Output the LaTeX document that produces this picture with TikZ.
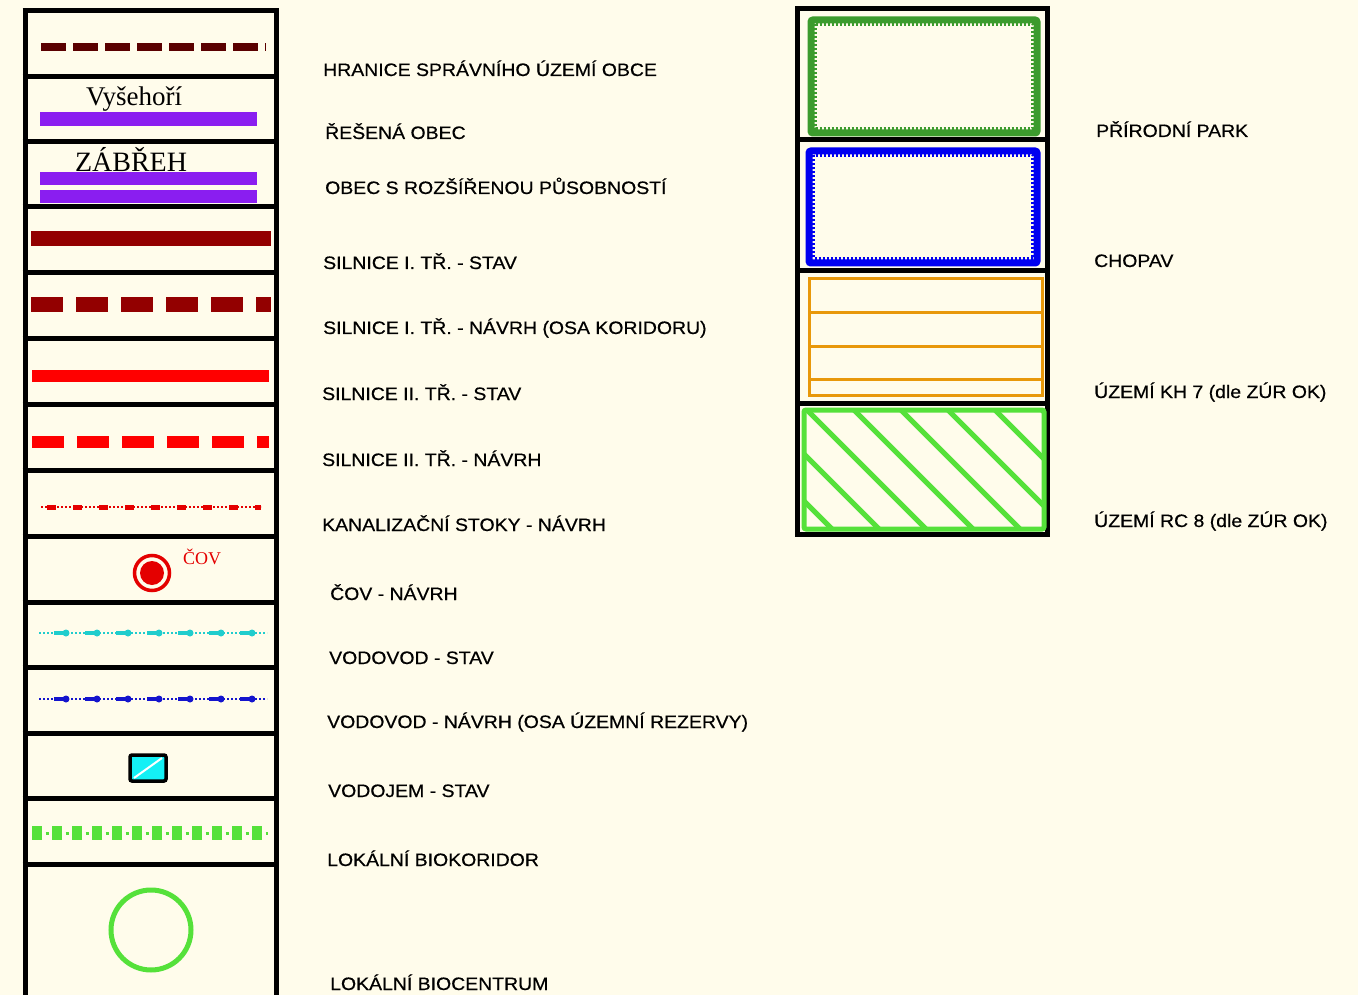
\documentclass[tikz,border=0pt]{standalone}
\usepackage{fontspec}
\setmainfont{Liberation Sans}
\newfontfamily\mapserif{Liberation Serif}
\newfontfamily\legendfont{Liberation Sans}[FakeStretch=1.08,FakeBold=0.6]
\usetikzlibrary{positioning}
\definecolor{paper}{RGB}{255,252,235}
\definecolor{border}{RGB}{90,0,0}
\definecolor{violet}{RGB}{138,30,240}
\definecolor{road}{RGB}{147,0,0}
\definecolor{sewer}{RGB}{228,0,0}
\definecolor{water}{RGB}{32,205,205}
\definecolor{plan}{RGB}{20,20,205}
\definecolor{tank}{RGB}{20,240,245}
\definecolor{bio}{RGB}{85,225,58}
\definecolor{park}{RGB}{60,155,45}
\definecolor{chopav}{RGB}{0,0,240}
\definecolor{kh}{RGB}{232,152,10}
\tikzset{
  frame/.style={line width=5pt,draw=black},
  legend/.style={anchor=base west,inner sep=0pt,font=\legendfont\fontsize{18}{20}\selectfont},
  place/.style={anchor=base,inner sep=0pt,font=\mapserif\fontsize{#1}{#1}\selectfont},
  place/.default=27,
  bar/.style={line width=#1,line cap=butt},
  pipe/.style={draw=#1,line width=2.5pt,dash pattern=on 2pt off 2pt},
}
\begin{document}
\begin{tikzpicture}[x=1pt,y=-1pt]
  \fill[paper] (0,0) rectangle (1358,995);
  \useasboundingbox (0,0) rectangle (1358,995);
  % left column frame
  \draw[frame] (25,11) -- (25,1000) (276,11) -- (276,1000);
  \foreach \y in {11,77,142,207,273,338,404,470,536,602,667,733,798,864}
    \draw[frame] (22.5,\y) -- (278.5,\y);
  % right column frame
  \draw[frame] (797,9) rectangle (1047,534);
  \foreach \y in {140,271,403}
    \draw[frame] (797,\y) -- (1047,\y);
  % symbols
  \draw[border,bar=8pt,dash pattern=on 25pt off 7pt] (41,47) -- (266,47);
  \node[place] (vys) at (134,106) {Vyšehoří};
  \draw[violet,bar=14pt] (40,119) -- (257,119);
  \node[place=28] (zab) at (131,172) {ZÁBŘEH};
  \draw[violet,bar=13pt] (40,179) -- (257,179) (40,197) -- (257,197);
  \draw[road,bar=15pt] (31,238.5) -- (271,238.5);
  \draw[road,bar=15pt,dash pattern=on 32pt off 13pt] (31,304.5) -- (271,304.5);
  \draw[red,bar=12pt] (32,376) -- (269,376);
  \draw[red,bar=12pt,dash pattern=on 32pt off 13pt] (32,442) -- (269,442);
  \draw[pipe=sewer] (41,507) -- (261,507);
  \draw[sewer,bar=5pt,dash pattern=on 9pt off 17pt] (47,507) -- (261,507);
  \draw[sewer,line width=3.5pt] (152,573) circle[radius=17.5pt];
  \fill[sewer] (152,573) circle[radius=12pt];
  \node[anchor=base west,inner sep=0pt,text=sewer,font=\mapserif\fontsize{18}{18}\selectfont] (cov) at (183,564) {ČOV};
  \foreach \c/\y in {water/633,plan/699}{
    \draw[pipe=\c] (39,\y) -- (267,\y);
    \foreach \x in {66,97,...,252}{
      \draw[\c,bar=4pt] (\x-12,\y) -- (\x,\y);
      \fill[\c] (\x,\y) circle[radius=3.5pt];
    }
  }
  \draw[line width=3.5pt,rounded corners=2pt,fill=tank] (130,755) rectangle (166,781);
  \draw[white,line width=2pt] (134,778) -- (162,758);
  \draw[bio,bar=14pt,dash pattern=on 10pt off 10pt] (32,833) -- (268,833);
  \draw[bio,bar=3pt,dash pattern=on 3pt off 17pt] (45.5,833) -- (268,833);
  \draw[bio,line width=5pt] (151,930) circle[radius=40pt];
  % areas
  \draw[park,line width=7pt,rounded corners=2pt] (811,20) rectangle (1037,133);
  \draw[park,line width=2.5pt,dash pattern=on 2pt off 2pt] (815.5,24.5) rectangle (1032.5,128.5);
  \draw[chopav,line width=7pt,rounded corners=2pt] (809,151) rectangle (1037,263);
  \draw[chopav,line width=2.5pt,dash pattern=on 2pt off 2pt] (813.5,155.5) rectangle (1032.5,258.5);
  \draw[kh,line width=3pt] (809,279) rectangle (1042,395);
  \foreach \y in {312,346,379}
    \draw[kh,line width=3pt] (809,\y) -- (1042,\y);
  \begin{scope}
    \clip (804,410) rectangle (1044,529);
    \foreach \k in {-2,...,5}
      \draw[bio,line width=5pt] (807+47*\k,410) -- ++(200,200);
  \end{scope}
  \draw[bio,line width=5pt,rounded corners=2pt] (804,410) rectangle (1044,529);
  % labels
  \foreach \t/\x/\y [count=\i] in {
    {HRANICE SPRÁVNÍHO ÚZEMÍ OBCE}/323/76,
    {ŘEŠENÁ OBEC}/325/139,
    {OBEC S ROZŠÍŘENOU PŮSOBNOSTÍ}/325/194,
    {SILNICE I. TŘ. - STAV}/323/269,
    {SILNICE I. TŘ. - NÁVRH (OSA KORIDORU)}/323/334,
    {SILNICE II. TŘ. - STAV}/322/400,
    {SILNICE II. TŘ. - NÁVRH}/322/466,
    {KANALIZAČNÍ STOKY - NÁVRH}/322/531,
    {ČOV - NÁVRH}/330/600,
    {VODOVOD - STAV}/329/664,
    {VODOVOD - NÁVRH (OSA ÚZEMNÍ REZERVY)}/327/728,
    {VODOJEM - STAV}/328/797,
    {LOKÁLNÍ BIOKORIDOR}/327/866,
    {LOKÁLNÍ BIOCENTRUM}/330/990,
    {PŘÍRODNÍ PARK}/1096/137,
    {CHOPAV}/1094/267,
    {ÚZEMÍ KH 7 (dle ZÚR OK)}/1094/398,
    {ÚZEMÍ RC 8 (dle ZÚR OK)}/1094/527}
    \node[legend] (lbl\i) at (\x,\y) {\t};
\end{tikzpicture}
\end{document}
